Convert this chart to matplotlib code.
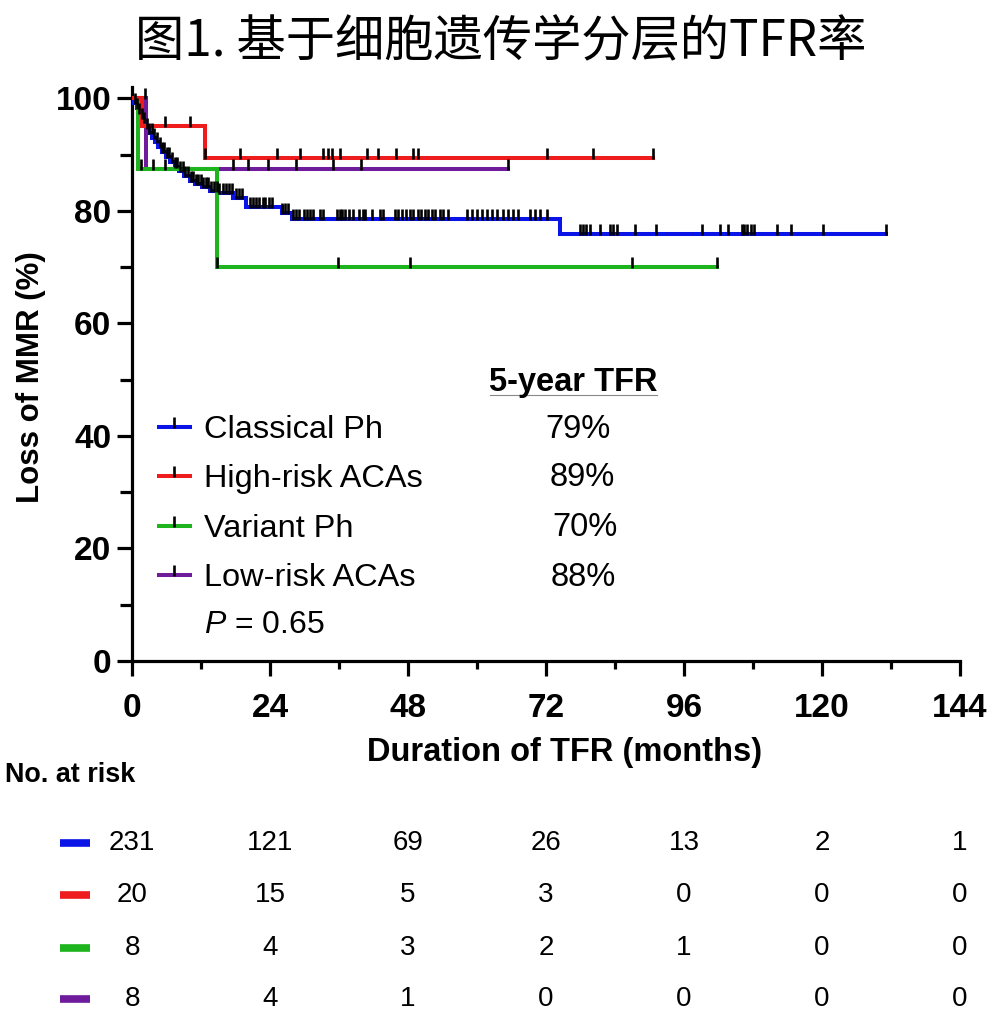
import numpy as np
import matplotlib
matplotlib.use("Agg")
import matplotlib.pyplot as plt
from matplotlib.path import Path
from matplotlib.lines import Line2D
import matplotlib.transforms as mtransforms

plt.rcParams['font.family'] = ['Liberation Sans', 'DejaVu Sans']
plt.rcParams['mathtext.fontset'] = 'custom'
plt.rcParams['mathtext.it'] = 'Liberation Sans:italic'
plt.rcParams['mathtext.rm'] = 'Liberation Sans'

# ---------------- data ----------------
groups = ["Classical Ph", "High-risk ACAs", "Variant Ph", "Low-risk ACAs"]
colors = ["#0A14E6", "#EE1C1C", "#1EB41E", "#6E1C9C"]
five_year = ["79%", "89%", "70%", "88%"]
p_value = "0.65"

# Kaplan-Meier step points (time in months, % without loss of MMR) and last follow-up
blue_t = [0, 0.4, 0.8, 1.2, 1.6, 2.0, 2.5, 3.0, 3.5, 4.0, 4.6, 5.2, 5.9, 6.6, 7.4,
          8.2, 9.1, 10.0, 11.0, 12.2, 13.5, 15.0, 17.5, 19.9, 26.0, 27.8, 74.4]
blue_s = [100, 99.1, 98.3, 97.4, 96.5, 95.7, 94.8, 93.9, 93.0, 92.2, 91.3, 90.4, 89.5,
          88.7, 87.8, 87.0, 86.1, 85.3, 84.8, 84.2, 83.6, 83.1, 82.3, 80.7, 79.6, 78.6, 75.8]
blue_end = 131.2
red_t = [0, 1.8, 12.7]
red_s = [100, 95.0, 89.4]
red_end = 90.6
green_t = [0, 1.1, 14.7]
green_s = [100, 87.5, 70.0]
green_end = 101.8
purple_t = [0, 2.4]
purple_s = [100, 87.5]
purple_end = 65.4

# censored observations (months)
blue_c = [0.5, 0.9, 1.3, 1.8, 2.1, 2.6, 3.0, 3.4, 3.9, 4.3, 4.8, 5.2, 5.6, 6.1, 6.5, 7.0,
          7.4, 7.9, 8.3, 8.8, 9.3, 9.7, 10.2, 10.6, 11.1, 11.5, 12.0, 12.4, 12.9, 13.3,
          13.8, 14.2, 14.7, 15.2, 15.8, 16.3, 16.9, 17.4, 18.0, 18.6, 19.2, 20.5, 21.0,
          21.6, 22.1, 22.7, 23.2, 23.8, 24.4, 26.1, 26.6, 27.2, 28.0, 28.5, 29.1,
          29.9, 30.5, 30.9, 31.5, 32.7, 33.3, 35.7, 36.2, 36.6, 37.1, 37.8, 38.5, 39.4,
          40.2, 40.5, 41.7, 43.1, 43.7, 45.7, 46.3, 46.9, 47.7, 48.3, 48.9, 49.8, 50.3,
          50.9, 51.5, 52.1, 52.7, 53.6, 54.1, 55.0, 58.2, 59.1, 60.0, 60.8, 61.7, 62.6,
          63.4, 64.6, 65.4, 66.3, 67.2, 69.2, 70.1, 71.0, 72.1,
          77.9, 78.4, 78.9, 79.6, 81.4, 83.1, 83.6, 84.3, 87.5, 91.2, 99.1, 102.3, 103.7,
          106.0, 106.5, 107.0, 107.6, 108.2, 112.2, 114.6, 120.1, 131.2]
red_c = [5.7, 10.1, 12.7, 18.8, 25.3, 29.2, 33.3, 34.0, 34.7, 36.2, 40.8, 42.8, 45.9,
         48.9, 49.7, 72.1, 80.2, 90.6]
green_c = [1.5, 3.7, 5.7, 14.7, 35.9, 48.3, 86.9, 101.8]
purple_c = [2.2, 17.5, 20.2, 23.7, 28.6, 35.0, 39.8, 65.4]

risk_times = [0, 24, 48, 72, 96, 120, 144]
risk_blue = [231, 121, 69, 26, 13, 2, 1]
risk_red = [20, 15, 5, 3, 0, 0, 0]
risk_green = [8, 4, 3, 2, 1, 0, 0]
risk_purple = [8, 4, 1, 0, 0, 0, 0]

title = "图1. 基于细胞遗传学分层的TFR率"

# ---------------- figure ----------------
W, H = 989, 1014
fig = plt.figure(figsize=(W / 100, H / 100), dpi=100)

def fx(x):
    return x / W

def fy(y):
    return 1 - y / H

ax = fig.add_axes([fx(132), fy(661), fx(960) - fx(132), fy(87) - fy(661)])
ax.set_xlim(0, 144)
ax.set_ylim(0, 102)

tick_marker = Path([(0, -0.12), (0, 1.0)], [Path.MOVETO, Path.LINETO])
LW = 2.9
MEW = 1.9
MS = 15

curves = [
    (blue_t, blue_s, blue_end, blue_c, colors[0]),
    (red_t, red_s, red_end, red_c, colors[1]),
    (green_t, green_s, green_end, green_c, colors[2]),
    (purple_t, purple_s, purple_end, purple_c, colors[3]),
]
zorders = [3, 6, 5, 4]
for (t, s, end, c, col), z in zip(curves, zorders):
    tt = list(t) + [end]
    ss = list(s) + [s[-1]]
    ax.step(tt, ss, where='post', color=col, lw=LW, zorder=z, solid_joinstyle='miter')
for (t, s, end, c, col), z in zip(curves, zorders):
    idx = np.searchsorted(np.asarray(t), np.asarray(c), side='right') - 1
    cy = np.asarray(s)[idx]
    ax.plot(c, cy, ls='none', marker=tick_marker, ms=MS, mec='black', mew=MEW,
            zorder=10)

# axes styling
for sp in ['top', 'right']:
    ax.spines[sp].set_visible(False)
for sp in ['left', 'bottom']:
    ax.spines[sp].set_linewidth(2.3)
ax.set_xticks(risk_times)
ax.set_xticks(np.arange(12, 144, 24), minor=True)
ax.set_yticks([0, 20, 40, 60, 80, 100])
ax.set_yticks([10, 30, 50, 70, 90], minor=True)
ax.tick_params(axis='both', which='both', width=2.3, direction='out')
ax.tick_params(axis='x', which='major', length=11, pad=12)
ax.tick_params(axis='x', which='minor', length=6)
ax.tick_params(axis='y', which='major', length=11, pad=4)
ax.tick_params(axis='y', which='minor', length=9)
for lab in ax.get_xticklabels() + ax.get_yticklabels():
    lab.set_fontsize(24)
    lab.set_fontweight('bold')
ax.set_xlabel("Duration of TFR (months)", fontsize=23.5, fontweight='bold')
ax.xaxis.set_label_coords((565 - 132) / 828, (661 - 737) / 574)
ax.set_ylabel("Loss of MMR (%)", fontsize=22.5, fontweight='bold')
ax.yaxis.set_label_coords((46 - 132) / 828, (661 - 377) / 574)

# legend
handles = [Line2D([0, 1], [0, 0], color=col, lw=LW, marker=tick_marker, ms=MS,
                  mec='black', mew=MEW) for col in colors]
leg = ax.legend(handles, groups, loc='upper left', bbox_to_anchor=(fx(159), fy(415)),
                bbox_transform=fig.transFigure, frameon=False, fontsize=23.4,
                handlelength=0.95, handletextpad=0.45, labelspacing=0.6,
                borderpad=0, borderaxespad=0, numpoints=1)

fig.text(fx(573), fy(383), "5-year TFR", fontsize=23.5, fontweight='bold', ha='center', va='center')
fig.add_artist(Line2D([fx(490), fx(657)], [fy(395), fy(395)], color='#888888', lw=0.8))
pct_x = [578, 582, 585, 583]
pct_y = [430, 478, 528, 577]
for txt, x, y in zip(five_year, pct_x, pct_y):
    fig.text(fx(x), fy(y), txt, fontsize=23.5, ha='center', va='center')
fig.text(fx(204), fy(625), "$P$ = " + p_value, fontsize=23, ha='left', va='center')

# title
fig.text(fx(501), fy(42), title, fontsize=35.5, ha='center', va='center',
         family=['Noto Sans CJK SC', 'DejaVu Sans'])

# number at risk
fig.text(fx(5), fy(775), "No. at risk", fontsize=19.4, fontweight='bold', ha='left', va='center')
blend = mtransforms.blended_transform_factory(ax.transData, fig.transFigure)
rows = [risk_blue, risk_red, risk_green, risk_purple]
row_y = [843, 895, 948, 999]
for vals, col, y in zip(rows, colors, row_y):
    fig.add_artist(Line2D([fx(60), fx(90)], [fy(y), fy(y)], color=col, lw=5.5,
                          solid_capstyle='butt'))
    for t, v in zip(risk_times, vals):
        fig.text(t, fy(y), str(v), transform=blend, fontsize=20, ha='center', va='center')

fig.savefig("out.png", dpi=100)
